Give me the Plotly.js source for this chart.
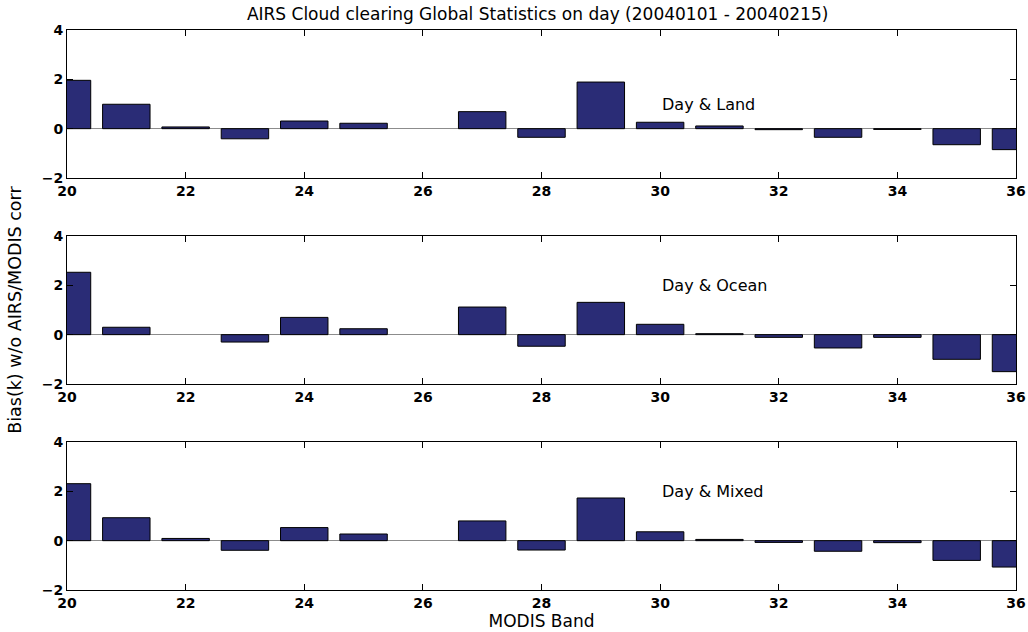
<!DOCTYPE html>
<html>
<head>
<meta charset="utf-8">
<script src="https://cdn.plot.ly/plotly-3.0.1.min.js"></script>
<style>html,body{margin:0;padding:0;background:#fff;}#chart{width:1028px;height:632px;}</style>
</head>
<body>
<div id="chart"></div>
<script>
const bands = [20,21,22,23,24,25,26,27,28,29,30,31,32,33,34,35,36];
const dayLand  = [1.96,0.99,0.07,-0.41,0.31,0.22,0,0.69,-0.35,1.89,0.26,0.11,-0.04,-0.35,-0.03,-0.65,-0.85];
const dayOcean = [2.53,0.30,0.0,-0.30,0.70,0.24,0,1.12,-0.47,1.31,0.42,0.04,-0.11,-0.54,-0.11,-1.0,-1.5];
const dayMixed = [2.31,0.93,0.09,-0.39,0.53,0.27,0,0.80,-0.38,1.73,0.36,0.05,-0.07,-0.43,-0.08,-0.80,-1.07];
const panelLabels = ['Day & Land','Day & Ocean','Day & Mixed'];
const xTicks = [20,22,24,26,28,30,32,34,36];
const yTicks = [-2,0,2,4];

const series = [dayLand, dayOcean, dayMixed];
const FAM = 'DejaVu Sans, Verdana, sans-serif';
const tickFont = {family: FAM, size: 14, color: '#000', weight: 'bold'};
const textFont = {family: FAM, size: 16, color: '#000'};
const traces = series.map((vals, i) => ({
  type: 'bar', x: bands, y: vals, width: 0.8,
  xaxis: i === 0 ? 'x' : 'x' + (i + 1),
  yaxis: i === 0 ? 'y' : 'y' + (i + 1),
  marker: {color: '#2a2c76', line: {color: '#000', width: vals.map(v => v === 0 ? 0 : 1)}},
  showlegend: false, hoverinfo: 'x+y'
}));

const domains = [[0.7357, 1], [0.3679, 0.6321], [0, 0.2643]];
const layout = {
  width: 1028, height: 632,
  margin: {l: 67, r: 12, t: 30, b: 42},
  paper_bgcolor: '#fff', plot_bgcolor: '#fff',
  font: textFont,
  bargap: 0,
  title: {text: 'AIRS Cloud clearing Global Statistics on day (20040101 - 20040215)',
          font: {family: FAM, size: 17, color: '#000'},
          x: 0.523, xanchor: 'center', y: 0.987, yanchor: 'top'},
  annotations: [],
  showlegend: false
};
for (let i = 0; i < 3; i++) {
  const s = i === 0 ? '' : String(i + 1);
  layout['xaxis' + s] = {
    domain: [0, 1], anchor: 'y' + s, range: [20, 36],
    tickvals: xTicks, ticktext: xTicks.map(String),
    ticks: 'inside', ticklen: 6, tickcolor: '#000',
    showline: true, linecolor: '#000', linewidth: 1, mirror: 'ticks',
    showgrid: false, zeroline: false, tickfont: tickFont, fixedrange: true
  };
  layout['yaxis' + s] = {
    domain: domains[i], anchor: 'x' + s, range: [-2, 4],
    tickvals: yTicks, ticktext: yTicks.map(v => v < 0 ? '\u2212' + Math.abs(v) : String(v)),
    ticks: 'inside', ticklen: 6, tickcolor: '#000',
    showline: true, linecolor: '#000', linewidth: 1, mirror: 'ticks',
    showgrid: false, zeroline: true, zerolinecolor: '#8c8c8c', zerolinewidth: 1,
    tickfont: tickFont, fixedrange: true
  };
  layout.annotations.push({
    text: panelLabels[i], x: 30, y: i === 0 ? 1 : 2,
    xref: 'x' + s, yref: 'y' + s, xanchor: 'left', yanchor: 'middle',
    showarrow: false, font: textFont
  });
}
layout.xaxis3.title = {text: 'MODIS Band', font: {family: FAM, size: 17, color: '#000'}, standoff: 2};
layout.annotations.push({
  text: 'Bias(k) w/o AIRS/MODIS corr', textangle: -90,
  x: -0.055, y: 0.5, xref: 'paper', yref: 'paper',
  xanchor: 'center', yanchor: 'middle', showarrow: false,
  font: {family: FAM, size: 17.5, color: '#000'}
});
Plotly.newPlot('chart', traces, layout, {displayModeBar: false, staticPlot: true});
</script>
</body>
</html>
